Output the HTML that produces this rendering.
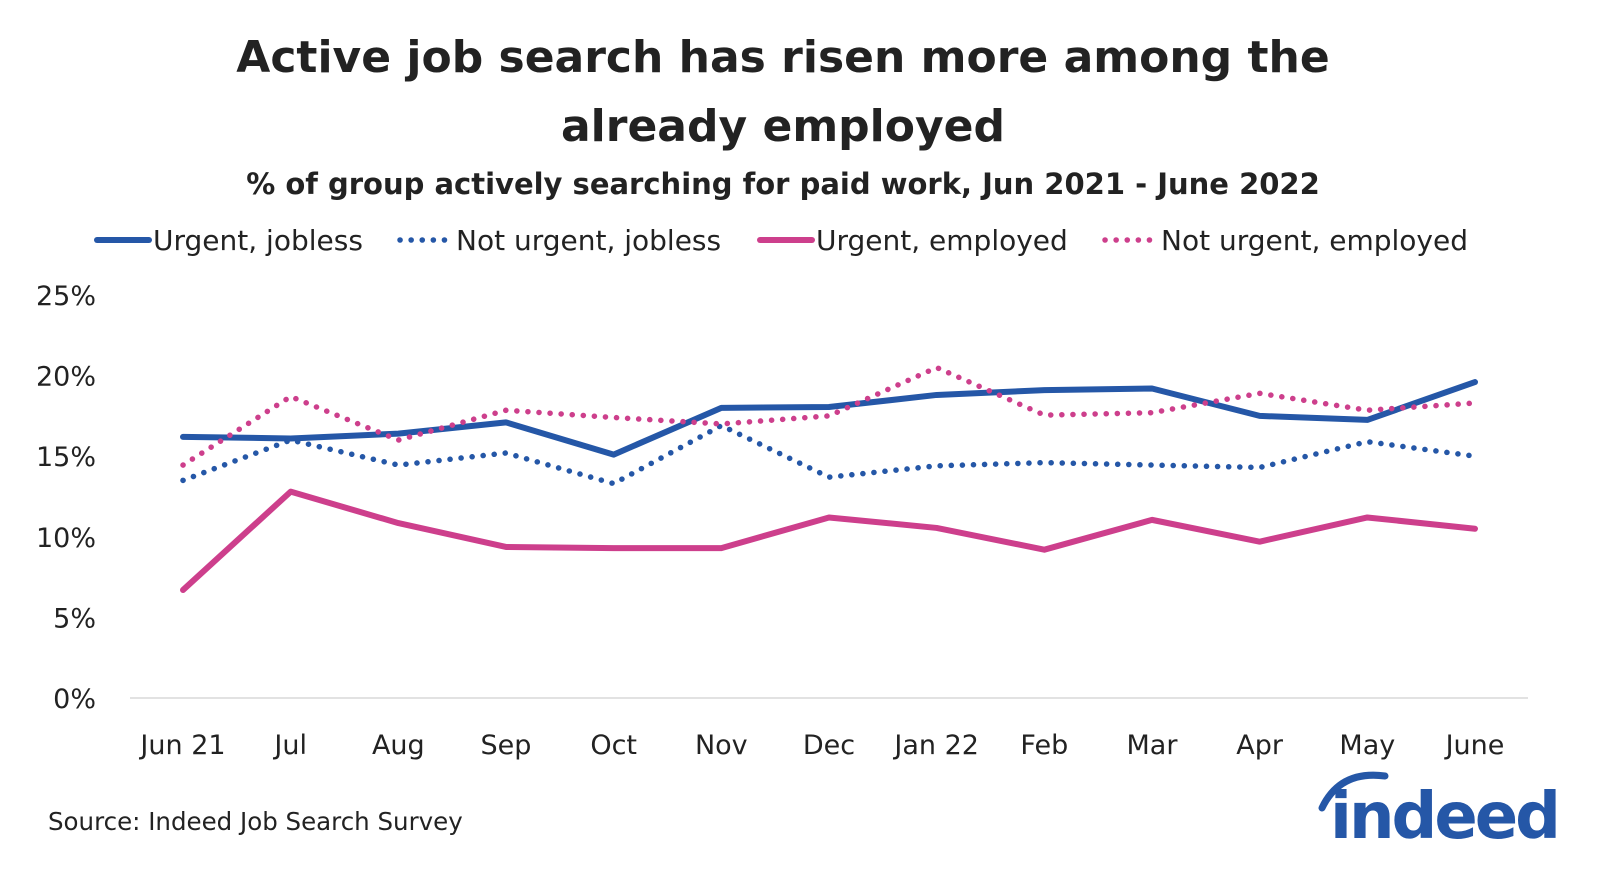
<!DOCTYPE html>
<html><head><meta charset="utf-8">
<style>
html,body{margin:0;padding:0;background:#fff;}
body{width:1600px;height:874px;overflow:hidden;font-family:"DejaVu Sans","Liberation Sans",sans-serif;}
svg text{font-family:"DejaVu Sans","Liberation Sans",sans-serif;}
</style></head>
<body>
<svg width="1600" height="874" viewBox="0 0 1600 874" id="svg">
<text x="783" y="72" text-anchor="middle" font-size="44" font-weight="bold" fill="#222">Active job search has risen more among the</text>
<text x="783" y="141" text-anchor="middle" font-size="44" font-weight="bold" fill="#222">already employed</text>
<text x="783" y="194" text-anchor="middle" font-size="29" font-weight="bold" fill="#222">% of group actively searching for paid work, Jun 2021 - June 2022</text>
<g id="legend"></g>
<g id="grid"></g>
<g id="yaxis"></g>
<g id="xaxis"></g>
<g id="series"></g>
<text x="48" y="830" font-size="24.5" fill="#222">Source: Indeed Job Search Survey</text>
<g>
<path d="M1322 808 Q1340 770 1385 776" stroke="#2557a7" stroke-width="7" fill="none" stroke-linecap="round"/>
<text x="1330" y="838" font-size="64" font-weight="bold" fill="#2557a7" letter-spacing="-3">indeed</text>
</g>
</svg>
<script>
const categories=["Jun 21","Jul","Aug","Sep","Oct","Nov","Dec","Jan 22","Feb","Mar","Apr","May","June"];
const urgentJobless=[16.2,16.1,16.4,17.1,15.1,18.0,18.05,18.8,19.1,19.2,17.5,17.25,19.6];
const notUrgentJobless=[13.5,16.0,14.45,15.2,13.3,16.9,13.7,14.4,14.6,14.45,14.3,15.9,15.0];
const urgentEmployed=[6.7,12.8,10.85,9.37,9.3,9.3,11.2,10.55,9.2,11.05,9.7,11.2,10.5];
const notUrgentEmployed=[14.45,18.7,16.0,17.85,17.4,17.0,17.5,20.5,17.55,17.7,18.9,17.85,18.3];
const yTicks=[0,5,10,15,20,25];
const seriesNames=["Urgent, jobless","Not urgent, jobless","Urgent, employed","Not urgent, employed"];

const NS="http://www.w3.org/2000/svg";
const x0=183,x1=1475,y0=698,yTop=295;
const xs=i=>x0+i*(x1-x0)/(categories.length-1);
const ys=v=>y0-v*(y0-yTop)/25;
function mk(tag,attrs,parent,txt){const e=document.createElementNS(NS,tag);for(const k in attrs)e.setAttribute(k,attrs[k]);if(txt!==undefined)e.textContent=txt;document.getElementById(parent).appendChild(e);return e;}

const base=mk("line",{x1:130,x2:1528,y1:ys(0),y2:ys(0),stroke:"#d9d9d9","stroke-width":1.5},"grid");


yTicks.forEach(t=>{
  const l=mk("text",{x:96,y:ys(t)+10,"text-anchor":"end","font-size":27,fill:"#222"},"yaxis",t+"%");
  
  
});
categories.forEach((c,i)=>{
  const l=mk("text",{x:xs(i),y:754,"text-anchor":"middle","font-size":27,fill:"#222"},"xaxis",c);
  
  
});
const styles=[
 {d:urgentJobless,c:"#2557a7",dash:null},
 {d:notUrgentJobless,c:"#2557a7",dash:"0.1 11"},
 {d:urgentEmployed,c:"#cd3f8c",dash:null},
 {d:notUrgentEmployed,c:"#cd3f8c",dash:"0.1 11"}
];
styles.forEach((s,k)=>{
  const pts=s.d.map((v,i)=>xs(i)+","+ys(v)).join(" ");
  const a={points:pts,fill:"none",stroke:s.c,"stroke-width":s.dash?5.5:6,"stroke-linejoin":"round","stroke-linecap":"round"};
  if(s.dash)a["stroke-dasharray"]=s.dash;
  const p=mk("polyline",a,"series");
  
  
});
const lx=[97,400,760,1105];
styles.forEach((s,k)=>{
  const a={x1:lx[k],x2:lx[k]+52,y1:240,y2:240,stroke:s.c,"stroke-width":s.dash?5.5:6,"stroke-linecap":"round"};
  if(s.dash)a["stroke-dasharray"]=s.dash;
  const l=mk("line",a,"legend");
  
  
  const t=mk("text",{x:lx[k]+56,y:250,"font-size":28,fill:"#222"},"legend",seriesNames[k]);
  
  
});
</script>
</body></html>
